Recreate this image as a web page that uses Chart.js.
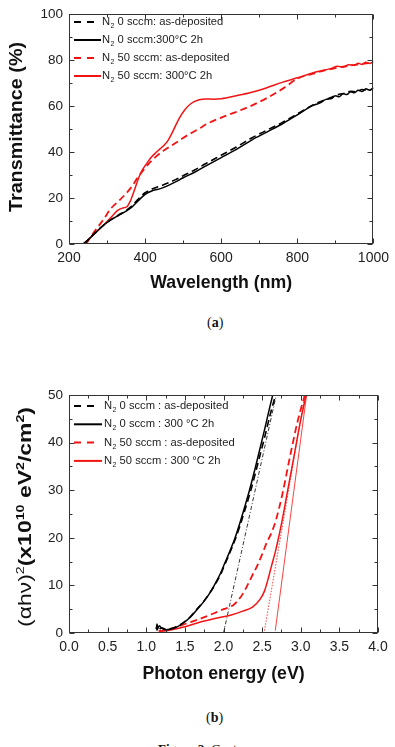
<!DOCTYPE html>
<html><head><meta charset="utf-8">
<script src="https://cdn.jsdelivr.net/npm/chart.js@4.4.0/dist/chart.umd.min.js"></script>
<style>
html,body{margin:0;padding:0;background:#fff;width:395px;height:747px;overflow:hidden;position:relative;}
canvas{position:absolute;left:0;}
#ca{top:0;}
#cb{top:380px;}
.cap{position:absolute;font-family:"Liberation Serif","DejaVu Serif","Times New Roman",serif;font-size:14px;color:#111;white-space:nowrap;line-height:16px;}
</style></head><body>
<canvas id="ca" width="395" height="300"></canvas>
<canvas id="cb" width="395" height="320"></canvas>
<div class="cap" style="left:207px;top:315px">(<b>a</b>)</div>
<div class="cap" style="left:206px;top:710px">(<b>b</b>)</div>
<div class="cap" style="left:158px;top:741px;font-size:13px"><b>Figure 2.</b> <i>Cont.</i></div>
<script>
const FONT = '"Liberation Sans", Arial, Helvetica, sans-serif';
const RED = '#f21414';

// ---------- (a) Transmittance vs wavelength ----------
const aTickX = [200, 400, 600, 800, 1000];
const aMinorX = [300, 500, 700, 900];
const aTickY = [0, 20, 40, 60, 80, 100];
const aMinorY = [10, 30, 50, 70, 90];

const aLabels = ['N₂ 0 sccm: as-deposited', 'N₂ 0 sccm:300°C 2h', 'N₂ 50 sccm: as-deposited', 'N₂ 50 sccm: 300°C 2h'];

const aBlkDashWl = [238,250,265,285,310,330,350,365,380,400,420,440,460,480,500,530,560,600,640,680,720,760,800,840,870,890,910,925,940,955,970,985,1000];
const aBlkDashT  = [0,1.8,4.2,7.4,10.6,12.6,14.6,16.5,19.2,22.3,24,25.2,26.5,28,29.7,32.2,35,38.6,42.2,46.1,49.5,52.8,56.6,60.4,62.6,63.8,65.1,65.6,66.4,66.2,67.2,66.8,67.6];

const aBlkSolWl = [238,250,265,285,310,330,350,365,380,400,420,440,460,480,500,530,560,600,640,680,720,760,800,840,860,875,890,900,910,920,930,940,950,960,970,980,990,1000];
const aBlkSolT  = [0,1.8,4.2,7.4,10.5,12.4,14.3,16,18.5,21.6,23.2,24.1,25.4,27,28.8,31.2,34,37.6,41.2,45.2,48.7,52.2,56.2,60.2,61.4,62.9,63.3,64.5,64.1,65.4,65,66.2,65.8,66.9,66.3,67.5,66.9,68];

const aRedDashWl = [245,265,290,311,330,348,365,381,400,412,430,441,455,467,490,511,540,563,600,640,677,720,764,800,840,880,920,960,1000];
const aRedDashT  = [0,5,10.5,15.6,18.6,21.6,25,29,33,35.4,38.2,39.7,41.3,42.6,45,47.3,50,52.3,55,57.5,60,63.5,67.8,71.9,74,75.8,77.1,78.1,78.9];

const aRedSolWl = [238,250,265,285,300,315,328,340,352,362,372,382,392,402,415,428,440,450,460,470,480,490,505,520,540,560,580,600,640,680,720,760,800,840,870,890,905,920,935,950,960,970,980,990,1000];
const aRedSolT  = [0,1.8,4.2,7.2,9.8,12.4,14.6,15.6,16.2,19,23.5,28.3,32,34.5,37.5,39.7,41.5,43,45,48,51.5,54.8,58.5,61,62.6,63.1,63,63.2,64.5,66,68,70.3,72.3,74.4,75.6,76.4,77.3,77,78,77.7,78.6,78.1,79.1,78.5,79.4];

// ---------- (b) Tauc plot ----------
const bTickX = [0, 0.5, 1.0, 1.5, 2.0, 2.5, 3.0, 3.5, 4.0];
const bMinorX = [0.25, 0.75, 1.25, 1.75, 2.25, 2.75, 3.25, 3.75];
const bTickY = [0, 10, 20, 30, 40, 50];
const bMinorY = [5, 15, 25, 35, 45];

const bLabels = ['N₂ 0 sccm : as-deposited', 'N₂ 0 sccm : 300 °C 2h', 'N₂ 50 sccm : as-deposited', 'N₂ 50 sccm : 300 °C 2h'];

const bBlkDashE = [1.13,1.14,1.16,1.18,1.2,1.25,1.31,1.4,1.48,1.57,1.65,1.75,1.83,1.9,1.96,2.02,2.08,2.15,2.21,2.28,2.34,2.41,2.47,2.54,2.6,2.7];
const bBlkDashV = [1.2,0.6,1.6,0.9,1.1,0.8,0.9,1.4,2.2,3.4,4.9,6.8,8.6,10.4,12.2,14.5,16.8,19.6,22.4,26,29.2,33.4,37.2,41.6,45.6,51.5];

const bBlkSolE = [1.13,1.14,1.15,1.17,1.2,1.25,1.31,1.4,1.48,1.57,1.65,1.75,1.83,1.9,1.96,2.02,2.08,2.15,2.21,2.28,2.34,2.41,2.47,2.54,2.6,2.66];
const bBlkSolV = [0.8,1.9,1.0,1.5,1.0,0.7,0.8,1.3,2.1,3.3,4.8,6.7,8.6,10.6,12.5,14.8,17.1,20,23,26.8,30.2,34.6,38.6,43.3,47.5,51.5];

const bRedDashE = [1.16,1.3,1.52,1.7,1.87,2.0,2.13,2.22,2.3,2.37,2.43,2.5,2.56,2.62,2.68,2.76,2.86,2.96,3.07];
const bRedDashV = [0.4,0.8,2,3,4.1,5,5.9,7.5,9.7,12,13.9,16.5,19,21,23.8,29,37,44.5,51];

const bRedSolE = [1.17,1.3,1.5,1.7,1.9,2.1,2.25,2.38,2.47,2.53,2.58,2.62,2.67,2.71,2.76,2.82,2.9,2.99,3.09];
const bRedSolV = [0.3,0.6,1.3,2.3,3.1,3.8,4.6,5.5,7,8.8,11.5,14,17,19.8,23.7,29,36,44,51.5];

// linear-fit (band-gap extrapolation) lines
const bFitBlkE = [2.0, 2.69];   const bFitBlkV = [0, 50.5];
const bFitRedDotE = [2.53, 3.06]; const bFitRedDotV = [0.5, 50.5];
const bFitRedSolE = [2.67, 3.08]; const bFitRedSolV = [0.5, 50.5];

const pts = (xs, ys) => xs.map((x, i) => ({x: x, y: ys[i]}));

// ---------- plugins ----------
const framePlugin = {
  id: 'frame',
  afterDatasetsDraw(chart, args, o) {
    const {ctx, chartArea: ca, scales: {x, y}} = chart;
    ctx.save();
    ctx.strokeStyle = '#333'; ctx.lineWidth = 1; ctx.setLineDash([]);
    const L = Math.round(ca.left) + 0.5, R = Math.round(ca.right) - 0.5;
    const T = Math.round(ca.top) + 0.5, B = Math.round(ca.bottom) - 0.5;
    ctx.strokeRect(L, T, R - L, B - T);
    ctx.beginPath();
    const xt = (vals, len) => vals.forEach(v => {
      const p = Math.round(x.getPixelForValue(v)) + 0.5;
      ctx.moveTo(p, B); ctx.lineTo(p, B - len);
      ctx.moveTo(p, T); ctx.lineTo(p, T + len);
    });
    const yt = (vals, len) => vals.forEach(v => {
      const p = Math.round(y.getPixelForValue(v)) + 0.5;
      ctx.moveTo(L, p); ctx.lineTo(L + len, p);
      ctx.moveTo(R, p); ctx.lineTo(R - len, p);
    });
    xt(o.xMajor, 5); xt(o.xMinor, 3); yt(o.yMajor, 5); yt(o.yMinor, 3);
    ctx.stroke();
    ctx.restore();
  }
};

const keyPlugin = {
  id: 'key',
  afterDraw(chart, args, o) {
    const {ctx} = chart;
    ctx.save();
    chart.data.datasets.forEach((ds, i) => {
      if (!ds.inKey) return;
      const yy = o.y0 + i * o.dy;
      ctx.strokeStyle = ds.borderColor; ctx.lineWidth = 2;
      ctx.beginPath();
      if (ds.borderDash && ds.borderDash.length) {
        ctx.setLineDash([7, 6]);
        ctx.moveTo(o.x1, yy); ctx.lineTo(o.x1 + 21, yy);
      } else {
        ctx.setLineDash([]);
        ctx.moveTo(o.x1, yy); ctx.lineTo(o.x2, yy);
      }
      ctx.stroke();
      ctx.setLineDash([]);
      const lab = ds.label, k = lab.indexOf('₂');
      const pre = lab.slice(0, k), post = lab.slice(k + 1);
      ctx.fillStyle = '#222'; ctx.textBaseline = 'middle'; ctx.textAlign = 'left';
      let xx = o.tx;
      ctx.font = o.fs + 'px ' + FONT; ctx.fillText(pre, xx, yy); xx += ctx.measureText(pre).width;
      ctx.font = Math.round(o.fs * 0.62) + 'px ' + FONT; ctx.fillText('2', xx + 0.5, yy + 4); xx += ctx.measureText('2').width + 0.5;
      ctx.font = o.fs + 'px ' + FONT; ctx.fillText(post, xx, yy);
    });
    ctx.restore();
  }
};

const yTitlePlugin = {
  id: 'ytitle',
  afterDraw(chart, args, o) {
    const {ctx} = chart;
    ctx.save();
    ctx.fillStyle = '#111';
    ctx.textBaseline = 'alphabetic'; ctx.textAlign = 'left';
    const fontOf = s => (s.bold ? 'bold ' : '') + (s.sup ? o.supSize : o.size) + 'px ' + FONT;
    let total = 0;
    o.segs.forEach(s => { ctx.font = fontOf(s); s.w = ctx.measureText(s.t).width; total += s.w; });
    const sx = o.length / total;
    ctx.translate(o.bx, o.cy);
    ctx.rotate(-Math.PI / 2);
    ctx.scale(sx, 1);
    let xx = -total / 2;
    o.segs.forEach(s => {
      ctx.font = fontOf(s);
      ctx.fillText(s.t, xx, s.sup ? -o.raise : 0);
      xx += s.w;
    });
    ctx.restore();
  }
};

function tickSetter(arr) {
  return s => { s.ticks = arr.map(v => ({value: v})); };
}

function makeChart(id, cfg) {
  return new Chart(document.getElementById(id), {
    type: 'line',
    data: {datasets: cfg.datasets},
    plugins: [framePlugin, keyPlugin, yTitlePlugin],
    options: {
      responsive: false,
      animation: false,
      devicePixelRatio: 1,
      layout: {autoPadding: false, padding: {left: 0, right: 17, top: cfg.top, bottom: 0}},
      elements: {point: {radius: 0, hoverRadius: 0}, line: {cubicInterpolationMode: 'monotone', borderCapStyle: 'butt'}},
      plugins: {
        legend: {display: false}, tooltip: {enabled: false},
        frame: {xMajor: cfg.xTicks, xMinor: cfg.xMinor, yMajor: cfg.yTicks, yMinor: cfg.yMinor},
        key: cfg.key,
        ytitle: cfg.ytitle
      },
      scales: {
        x: {
          type: 'linear', min: cfg.xMin, max: cfg.xMax,
          afterBuildTicks: tickSetter(cfg.xTicks),
          afterFit: s => { s.height = cfg.xH; },
          grid: {display: false, drawTicks: false},
          border: {display: false},
          ticks: {padding: 6, autoSkip: false, maxRotation: 0, color: '#222',
                  font: {family: FONT, size: 14}, callback: cfg.xFmt},
          title: {display: true, text: cfg.xTitle, color: '#111',
                  font: {family: FONT, size: 17.7, weight: 'bold'}, padding: {top: 0, bottom: cfg.xTitlePad}}
        },
        y: {
          type: 'linear', min: cfg.yMin, max: cfg.yMax,
          afterBuildTicks: tickSetter(cfg.yTicks),
          afterFit: s => { s.width = 69; },
          grid: {display: false, drawTicks: false},
          border: {display: false},
          ticks: {padding: 6, color: '#222', font: {family: FONT, size: 13.5}},
          title: {display: false}
        }
      }
    }
  });
}

const lineDs = (label, data, color, dash, width, inKey) => ({
  label: label, data: data, borderColor: color, backgroundColor: color,
  borderWidth: width, borderDash: dash, fill: false, inKey: inKey
});

makeChart('ca', {
  top: 7, xMin: 200, xMax: 1000, yMin: 0, yMax: 100,
  xTicks: aTickX, xMinor: aMinorX, yTicks: aTickY, yMinor: aMinorY,
  xH: 56, xTitle: 'Wavelength (nm)', xTitlePad: 6,
  xFmt: v => String(v),
  datasets: [
    lineDs(aLabels[0], pts(aBlkDashWl, aBlkDashT), '#000', [7, 4], 1.6, true),
    lineDs(aLabels[1], pts(aBlkSolWl, aBlkSolT), '#000', [], 1.5, true),
    lineDs(aLabels[2], pts(aRedDashWl, aRedDashT), RED, [7, 4], 1.8, true),
    lineDs(aLabels[3], pts(aRedSolWl, aRedSolT), RED, [], 1.5, true)
  ],
  key: {x1: 74, x2: 101, tx: 102, y0: 22, dy: 18, fs: 11.2},
  ytitle: {segs: [{t: 'Transmittance (%)', bold: true}], size: 17.7, supSize: 11, raise: 7,
           bx: 21.5, cy: 127, length: 170}
});

makeChart('cb', {
  top: 15, xMin: 0, xMax: 4, yMin: 0, yMax: 50,
  xTicks: bTickX, xMinor: bMinorX, yTicks: bTickY, yMinor: bMinorY,
  xH: 67, xTitle: 'Photon energy (eV)', xTitlePad: 15.5,
  xFmt: v => Number(v).toFixed(1),
  datasets: [
    lineDs(bLabels[0], pts(bBlkDashE, bBlkDashV), '#000', [7, 4], 1.6, true),
    lineDs(bLabels[1], pts(bBlkSolE, bBlkSolV), '#000', [], 1.5, true),
    lineDs(bLabels[2], pts(bRedDashE, bRedDashV), RED, [7, 4], 1.8, true),
    lineDs(bLabels[3], pts(bRedSolE, bRedSolV), RED, [], 1.5, true),
    lineDs('fit N₂ 0 sccm', pts(bFitBlkE, bFitBlkV), '#000', [4, 2, 1, 2], 0.8, false),
    lineDs('fit N₂ 50 sccm as-deposited', pts(bFitRedDotE, bFitRedDotV), RED, [1.5, 1.5], 0.8, false),
    lineDs('fit N₂ 50 sccm 300 °C', pts(bFitRedSolE, bFitRedSolV), RED, [], 0.8, false)
  ],
  key: {x1: 74, x2: 102, tx: 104, y0: 26, dy: 18.3, fs: 11.2},
  ytitle: {segs: [
      {t: '(αhν)', bold: false}, {t: '2', sup: true}, {t: '(x10', bold: true},
      {t: '10', bold: true, sup: true}, {t: ' eV', bold: true}, {t: '2', bold: true, sup: true},
      {t: '/cm', bold: true}, {t: '2', bold: true, sup: true}, {t: ')', bold: true}],
    size: 17.7, supSize: 11, raise: 7, bx: 31, cy: 137, length: 220}
});
</script>
</body></html>
